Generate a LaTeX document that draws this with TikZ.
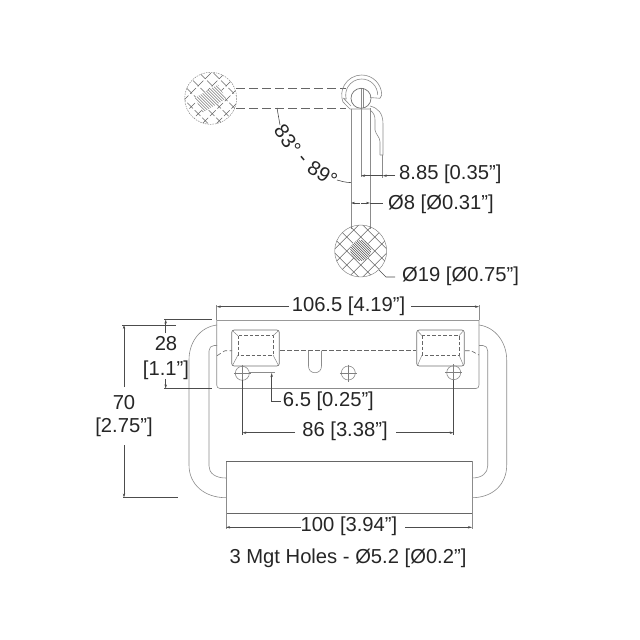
\documentclass[tikz,border=0pt]{standalone}
\usepackage{fontspec}
\setmainfont{Liberation Sans}
\usetikzlibrary{arrows.meta}
\newcommand{\dimfont}{\fontsize{20.2}{22}\selectfont}
\tikzset{
  lbl/.style={inner sep=0pt,font=\dimfont,text=black!85,yshift=-1.5pt},
  rotlbl/.style={inner sep=0pt,font=\dimfont,text=black!85},
  thin line/.style={draw=black!45,line width=0.6pt},
  part/.style={draw=black!55,line width=0.7pt},
  dimline/.style={draw=black!70,line width=0.6pt},
  arr/.style={dimline,-{Stealth[length=4pt,width=2.4pt]}},
  hatch/.style={draw=black!60,line width=0.5pt},
  brokenhatch/.style={draw=black!60,line width=0.5pt,dash pattern=on 8pt off 2.5pt},
  fine/.style={draw=black!50,line width=0.45pt},
  core/.style={draw=black!70,line width=0.6pt},
  hid/.style={draw=black!60,line width=0.6pt,dash pattern=on 4.5pt off 2.5pt},
}
\begin{document}
\begin{tikzpicture}[x=1pt,y=-1pt]
\useasboundingbox (0,0) rectangle (640,640);
\fill[white] (0,0) rectangle (640,640);
% --- end view section: top-left round bar
\begin{scope}
  \clip (210.7,98.3) circle (26);
  \foreach \d in {-70,-56,...,70}{
    \draw[brokenhatch] (210.7+\d-40,98.3-40) -- (210.7+\d+40,98.3+40);
    \draw[brokenhatch] (210.7+\d-37,98.3+40) -- (210.7+\d+43,98.3-40);
  }
  \fill[white,rotate around={30:(210.7,98.3)}] (197,90) rectangle (224,106.5);
  \begin{scope}
    \clip[rotate around={30:(210.7,98.3)}] (197,90) rectangle (224,106.5);
    \foreach \d in {-24,-21,...,24}{
      \draw[core,line width=0.45pt] (210.7+\d-20,98.3-20) -- (210.7+\d+20,98.3+20);
    }
  \end{scope}
\end{scope}
\draw[fine,dash pattern=on 1.5pt off 1pt] (210.7,98.3) circle (26);
\draw[hid,dash pattern=on 9pt off 4pt] (236,88.3) -- (346,88.3);
\draw[hid,dash pattern=on 9pt off 4pt] (236,108.3) -- (346,108.3);
% hinge
\draw[thin line] (351,109) -- (351,229);
\draw[thin line] (370,108) -- (370,229);
\draw[thin line] (361,88) -- (361,177);
\draw[thin line] (363,88) -- (363,108);
\draw[part] (361,98.3) circle (10);
\draw[thin line] (381.7,95) arc (0:-200:20);
\draw[thin line] (377.7,95) arc (0:-195:16);
\draw[thin line] (381.7,95) -- (380,98.3) -- (370,97.5);
\draw[thin line] (342.9,101.8) -- (350,109) -- (370,109);
\draw[thin line] (346.2,99) -- (343.5,98.3) -- (351,106);
\draw[thin line] (370,106) .. controls (378,108) and (383,113) .. (383,124) -- (383,155) -- (380,155);
\draw[thin line] (370,110) .. controls (374,113) and (375,116) .. (375,120) -- (375,130) .. controls (376,135) and (380,137) .. (380,142) -- (380,155);
\draw[thin line] (382.7,155) -- (382.7,178);
% dims 8.85
\draw[arr] (395,175.7) -- (382.7,175.7);
\draw[arr] (375,175.7) -- (361,175.7);
\draw[dimline] (375,175.7) -- (382.7,175.7);
\node[lbl,anchor=west] (t885) at (399,173) {8.85 [0.35”]};
% Ø8
\draw[arr] (360,203) -- (351,203);
\draw[arr] (361,203) -- (370,203);
\draw[dimline] (370,203) -- (383,203);
\node[lbl,anchor=west] (t8) at (388,203) {Ø8 [Ø0.31”]};
% angle label
\draw[dimline] (277,108) -- (280,125);
\draw[dimline] (337,180) .. controls (341,181) and (345,182.5) .. (351,182.6);
\node[rotlbl,rotate=-55] (a1) at (287.6,139.5) {83°};
\node[rotlbl,rotate=-50] (a2) at (301,160) {-};
\node[rotlbl,rotate=-32] (a3) at (322.4,174) {89°};
% bottom round bar
\begin{scope}
  \clip (360.7,251) circle (26);
  \foreach \d in {-70,-56,...,70}{
    \draw[hatch] (360.7+\d-40,251-40) -- (360.7+\d+40,251+40);
    \draw[hatch] (360.7+\d-40,251+40) -- (360.7+\d+40,251-40);
  }
  \fill[white] (360.7,250.5) circle (10.5);
\end{scope}
\begin{scope}
  \clip (360.7,250.5) circle (10.5);
  \foreach \d in {-24,-21.5,...,24}{
    \draw[core] (360.7+\d-20,250.5-20) -- (360.7+\d+20,250.5+20);
  }
\end{scope}
\draw[fine] (360.7,251) circle (26);
\draw[dimline] (379,270) -- (386,277) -- (395,277);
\node[lbl,anchor=west] (t19) at (402,275) {Ø19 [Ø0.75”]};
% --- plan view: handle
\draw[thin line] (217,325) .. controls (200,327) and (189,342) .. (189,360) -- (189,465) .. controls (189,485) and (205,497.7) .. (226,497.7);
\draw[thin line] (217,345.5) -- (214,345.5) .. controls (211,345.5) and (209,348) .. (209,351) -- (209,466) .. controls (209,473) and (215,478) .. (226,478);
\draw[thin line] (479,325) .. controls (495,327) and (506.7,342) .. (506.7,360) -- (506.7,465) .. controls (506.7,485) and (492,497.7) .. (472,497.7);
\draw[thin line] (479,345.5) -- (483,345.5) .. controls (486,345.5) and (487.7,348) .. (487.7,351) -- (487.7,466) .. controls (487.7,473) and (482,478) .. (472,478);
% plate
\draw[draw=black!40,line width=1pt] (217,320) -- (479,320);
\draw[thin line] (216.7,320) -- (216.7,385) .. controls (216.7,387) and (218,388.5) .. (220,388.5) -- (476,388.5) .. controls (478,388.5) and (479,387) .. (479,385) -- (479,320);
% hidden lines
\draw[hid] (280,350.7) -- (416,350.7);
\draw[hid] (217,355.7) -- (225,350.7) -- (232,350.7);
\draw[hid] (465,350.7) -- (471,350.7) -- (479,355);
\draw[thin line] (308.5,350.7) -- (308.5,366) .. controls (308.5,370) and (311,372.7) .. (315,372.7) .. controls (319,372.7) and (321.5,370) .. (321.5,366) -- (321.5,350.7);
% pockets
\foreach \xa/\xb/\xc/\xd/\nm in {231.7/238/273/279.3/a,416.7/422/459/464.3/b}{
  \draw[part,rounded corners=2.5pt] (\xa,330) rectangle (\xd,366);
  \draw[hid,dash pattern=on 3.5pt off 2pt] (\xb,335.7) rectangle (\xc,355);
  \draw[fine] (\xa+1,331) -- (\xb,335.7);
  \draw[fine] (\xd-1,331) -- (\xc,335.7);
  \draw[fine] (\xa+1,365) -- (\xb,355);
  \draw[fine] (\xd-1,365) -- (\xc,355);
}
% holes
\foreach \hx/\hy/\nm in {242.3/373.3/a,348.3/373/b,453.7/372.7/c}{
  \draw[thin line] (\hx,\hy) circle (7);
  \draw[fine] (\hx-8.5,\hy) -- (\hx+8.5,\hy);
  \draw[fine] (\hx,\hy-8.5) -- (\hx,\hy+8.5);
}
% grip
\fill[white] (226,461.7) rectangle (472,513.3);
\draw[thin line] (226,461.7) rectangle (472,513.3);
\draw[draw=black!60,line width=0.8pt] (226,461.7) -- (472,461.7);
\draw[draw=black!60,line width=0.8pt] (226,513.3) -- (472,513.3);
% dim 106.5
\node[lbl] (t106) at (348.5,305) {106.5 [4.19”]};
\draw[thin line] (216.7,305) -- (216.7,320);
\draw[thin line] (479,305) -- (479,320);
\draw[arr] (289,306.7) -- (216.7,306.7);
\draw[arr] (411,306.7) -- (479,306.7);
% dim 28
\draw[dimline] (164,319.5) -- (212,319.5);
\draw[dimline] (164,388.5) -- (212,388.5);
\draw[arr] (165.7,333) -- (165.7,319.5);
\draw[arr] (165.7,379) -- (165.7,388.5);
\node[lbl] (t28) at (166,342) {28};
\node[lbl] (t11) at (166,369) {[1.1”]};
% dim 70
\draw[dimline] (122,325) -- (176,325);
\draw[dimline] (123,497.5) -- (178,497.5);
\draw[arr] (124,387) -- (124,325);
\draw[arr] (124,445) -- (124,497.5);
\node[lbl] (t70) at (124,401) {70};
\node[lbl] (t275) at (124,426) {[2.75”]};
% dim 6.5
\draw[thin line] (249,372.5) -- (275,372.5);
\draw[dimline,{Stealth[length=4pt,width=2.4pt]}-] (271.7,373) -- (271.7,401.7) -- (281,401.7);
\node[lbl,anchor=west] (t65) at (282.7,400) {6.5 [0.25”]};
% dim 86
\draw[dimline] (242.3,380) -- (242.3,435);
\draw[dimline] (453.7,380) -- (453.7,435);
\draw[arr] (295,432.7) -- (242.3,432.7);
\draw[arr] (396,432.7) -- (453.7,432.7);
\node[lbl] (t86) at (345,430) {86 [3.38”]};
% dim 100
\draw[thin line] (226,513.3) -- (226,529);
\draw[thin line] (472,513.3) -- (472,529);
\draw[arr] (301,527.3) -- (226,527.3);
\draw[arr] (405,527.3) -- (472,527.3);
\node[lbl] (t100) at (349,525) {100 [3.94”]};
\node[lbl] (cap) at (348,557) {3 Mgt Holes - Ø5.2 [Ø0.2”]};
\end{tikzpicture}
\end{document}
